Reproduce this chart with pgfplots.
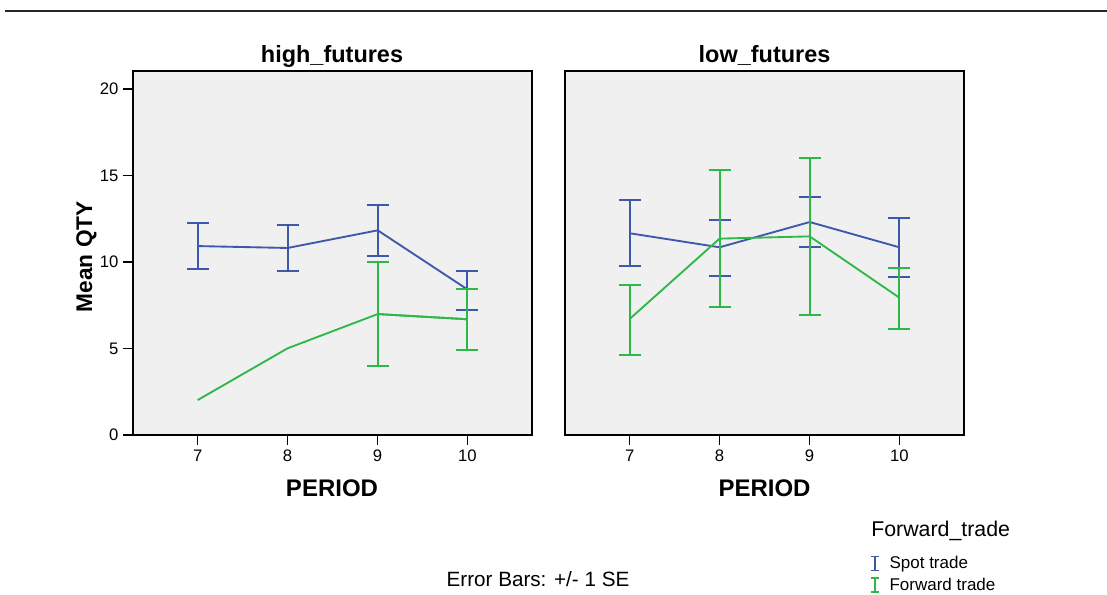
\documentclass[border=0pt]{standalone}
\usepackage{fontspec}
\setmainfont{Liberation Sans}
\usepackage{pgfplots}
\usepackage{pgfplotstable}
\pgfplotsset{compat=1.18}
\definecolor{sblue}{HTML}{3E58AC}
\definecolor{sgreen}{HTML}{2EB848}
\definecolor{bgray}{HTML}{F0F0F0}
% high_futures
\pgfplotstableread{
x y ep em
7 10.92 1.33 1.34
8 10.81 1.35 1.35
9.003 11.83 1.48 1.46
10 8.42 1.06 1.18
}\hispot
\pgfplotstableread{
x y
7 2.02
8 5.01
9.003 6.99
10 6.69
}\hifwdline
\pgfplotstableread{
x y ep em
9.003 6.99 3.01 2.98
10 6.69 1.77 1.76
}\hifwderr
% low_futures
\pgfplotstableread{
x y ep em
7 11.66 1.92 1.91
8 10.85 1.58 1.66
9.003 12.31 1.47 1.42
10 10.85 1.69 1.72
}\lospot
\pgfplotstableread{
x y ep em
7 6.71 1.96 2.11
8 11.35 3.95 3.93
9.003 11.48 4.53 4.53
10 7.94 1.71 1.80
}\lofwd
\pgfplotsset{
  panel/.style={
    scale only axis, width=299.25pt, height=273pt,
    anchor=south west,
    xmin=6.28, xmax=10.72, ymin=0, ymax=21.04,
    xtick={7,8,9,10},
    tick align=outside, major tick length=7.5pt,
    xtick pos=bottom, ytick pos=left,
    axis line style={line width=1.2pt},
    tick style={line width=1.1pt, black},
    axis background/.style={fill=bgray},
    /pgf/number format/assume math mode=true,
    ticklabel style={font=\fontsize{12.5}{14}\selectfont},
    legend image code/.code={\draw[#1, line width=1.2pt] (0pt,-5.25pt) -- (0pt,5.25pt) (-3pt,-5.25pt) -- (3pt,-5.25pt) (-3pt,5.25pt) -- (3pt,5.25pt); \path[draw=none] (0pt,0pt) -- (9pt,0pt);},
  },
  ebar/.style={line width=1.4pt, color=#1,
    error bars/.cd, y dir=both, y explicit,
    error mark=|,
    error mark options={mark size=8.25pt, line width=1.4pt, color=#1},
    error bar style={line width=1.4pt, color=#1}},
}
\begin{document}
\begin{tikzpicture}
\useasboundingbox (0,0) rectangle (830.25pt,446.25pt);
\draw[line width=1.5pt, black!85] (3.75pt,438pt) -- (830.25pt,438pt);
% left panel
\begin{axis}[panel, at={(99.75pt,120pt)}, ytick={0,5,10,15,20}]
\addplot[ebar=sblue] table[x=x, y=y, y error plus=ep, y error minus=em] {\hispot};
\addplot[sgreen, line width=1.4pt] table[x=x, y=y] {\hifwdline};
\addplot[ebar=sgreen] table[x=x, y=y, y error plus=ep, y error minus=em] {\hifwderr};
\end{axis}
% right panel
\begin{axis}[panel, at={(423.75pt,120pt)}, ytick=\empty,
  legend style={draw=none, fill=none, at={(axis description cs:0.764,-0.325)}, anchor=north west,
    font=\fontsize{12.75}{15}\selectfont, row sep=1.5pt, inner sep=0pt},
  legend cell align=left]
\addplot[ebar=sblue] table[x=x, y=y, y error plus=ep, y error minus=em] {\lospot};
\addlegendentry{Spot trade}
\addplot[ebar=sgreen] table[x=x, y=y, y error plus=ep, y error minus=em] {\lofwd};
\addlegendentry{Forward trade}
\end{axis}
% titles and labels
\node[anchor=base, font=\bfseries\fontsize{17.6}{20}\selectfont] at (249pt,399pt) {high\_futures};
\node[anchor=base, font=\bfseries\fontsize{17.6}{20}\selectfont] at (573.4pt,399pt) {low\_futures};
\node[anchor=base, font=\bfseries\fontsize{18}{20}\selectfont] at (249pt,73.5pt) {PERIOD};
\node[anchor=base, font=\bfseries\fontsize{18}{20}\selectfont] at (573.4pt,73.5pt) {PERIOD};
\node[anchor=base, rotate=90, font=\bfseries\fontsize{17}{20}\selectfont] at (69pt,253.7pt) {Mean QTY};
\node[anchor=base west, inner sep=0pt, font=\fontsize{16}{19}\selectfont] at (653.25pt,43.5pt) {Forward\_trade};
\node[anchor=base, inner sep=0pt, font=\fontsize{15.5}{18}\selectfont] at (403.5pt,6pt) {Error Bars: +/- 1 SE};
\end{tikzpicture}
\end{document}
